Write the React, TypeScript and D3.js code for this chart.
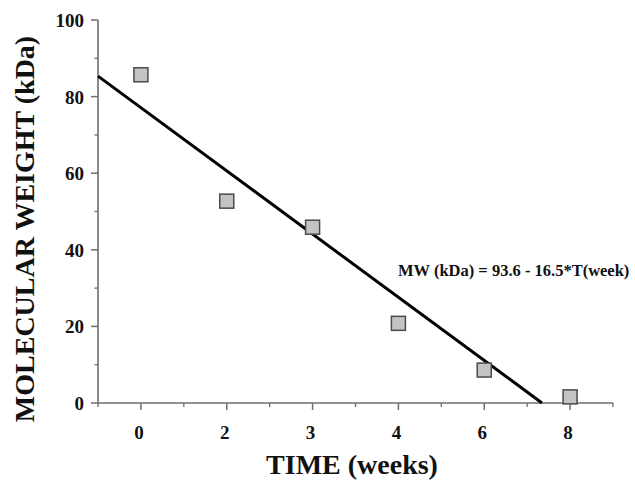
import React from 'react';
import {scaleLinear, line} from 'd3';

// x positions are evenly spaced sampling points; T = index (1..6)
const weekLabels = ['0', '2', '3', '4', '6', '8'];
const mwValues = [85.7, 52.7, 45.9, 20.8, 8.6, 1.6];
const yMajorTicks = [0, 20, 40, 60, 80, 100];
const yMinorTicks = [10, 30, 50, 70, 90];
const fitIntercept = 93.6;
const fitSlope = -16.5;
const equationText = 'MW (kDa) = 93.6 - 16.5*T(week)';

const W = 635;
const H = 481;
const font = '"Liberation Serif", "Times New Roman", serif';
const axisColor = '#6e6e6e';
const inkColor = '#111';

export default function App() {
  const x = scaleLinear().domain([0.5, 6.5]).range([98, 613]);
  const y = scaleLinear().domain([0, 100]).range([403, 20]);

  const xMinorTicks = [0.5, 1.5, 2.5, 3.5, 4.5, 5.5, 6.5];
  const tZero = -fitIntercept / fitSlope;
  const fitPoints: [number, number][] = [
    [0.5, fitIntercept + fitSlope * 0.5],
    [tZero, 0],
  ];
  const fitPath = line<[number, number]>()
    .x(d => x(d[0]))
    .y(d => y(d[1]))(fitPoints);

  const sq = 14;

  return (
    <div style={{position: 'absolute', left: 0, top: 0}}>
      <svg width={W} height={H} style={{display: 'block', background: '#fff'}}>
        {/* y axis */}
        <line x1={x(0.5)} x2={x(0.5)} y1={y(0)} y2={y(100)} stroke={axisColor} strokeWidth={1.6} />
        {yMajorTicks.map(t => (
          <g key={'ym' + t}>
            <line x1={x(0.5) - 7} x2={x(0.5)} y1={y(t)} y2={y(t)} stroke={axisColor} strokeWidth={1.5} />
            <text
              x={x(0.5) - 14}
              y={y(t) + 7}
              textAnchor="end"
              fontFamily={font}
              fontWeight="bold"
              fontSize={19}
              fill={inkColor}>
              {t}
            </text>
          </g>
        ))}
        {yMinorTicks.map(t => (
          <line key={'yn' + t} x1={x(0.5) - 3.5} x2={x(0.5)} y1={y(t)} y2={y(t)} stroke={axisColor} strokeWidth={1.3} />
        ))}

        {/* x axis */}
        <line x1={x(0.5)} x2={x(6.5)} y1={y(0)} y2={y(0)} stroke={axisColor} strokeWidth={1.6} />
        {weekLabels.map((lab, i) => (
          <g key={'xm' + lab}>
            <line x1={x(i + 1)} x2={x(i + 1)} y1={y(0)} y2={y(0) + 7} stroke={axisColor} strokeWidth={1.5} />
            <text
              x={x(i + 1) - 2}
              y={y(0) + 36}
              textAnchor="middle"
              fontFamily={font}
              fontWeight="bold"
              fontSize={19}
              fill={inkColor}>
              {lab}
            </text>
          </g>
        ))}
        {xMinorTicks.map(t => (
          <line key={'xn' + t} x1={x(t)} x2={x(t)} y1={y(0)} y2={y(0) + 4} stroke={axisColor} strokeWidth={1.3} />
        ))}

        {/* regression line */}
        <path d={fitPath || ''} fill="none" stroke="#000" strokeWidth={3} />

        {/* data points */}
        {mwValues.map((v, i) => (
          <rect
            key={'p' + i}
            x={x(i + 1) - sq / 2}
            y={y(v) - sq / 2}
            width={sq}
            height={sq}
            fill="#c3c3c3"
            stroke="#4a4a4a"
            strokeWidth={1.5}
          />
        ))}

        {/* equation */}
        <text
          x={398}
          y={276}
          fontFamily={font}
          fontWeight="bold"
          fontSize={16.5}
          fill={inkColor}>
          {equationText}
        </text>

        {/* axis titles */}
        <text
          x={352}
          y={474}
          textAnchor="middle"
          fontFamily={font}
          fontWeight="bold"
          fontSize={28}
          fill={inkColor}>
          TIME (weeks)
        </text>
        <text
          transform={`translate(34, 229) rotate(-90)`}
          textAnchor="middle"
          fontFamily={font}
          fontWeight="bold"
          fontSize={28}
          fill={inkColor}>
          MOLECULAR WEIGHT (kDa)
        </text>
      </svg>
    </div>
  );
}
